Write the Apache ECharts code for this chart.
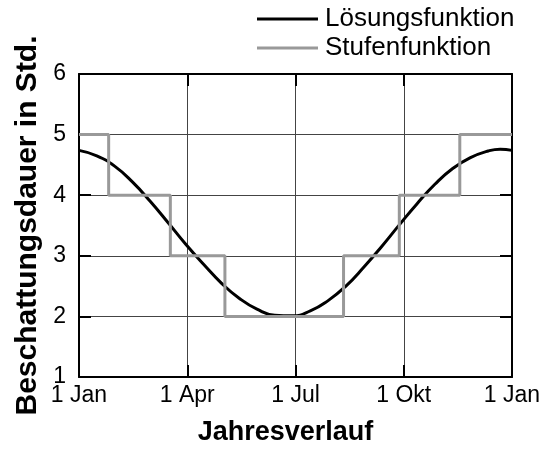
<!DOCTYPE html>
<html>
<head>
<meta charset="utf-8">
<script src="https://cdn.jsdelivr.net/npm/echarts@6/dist/echarts.min.js"></script>
<style>
  html, body { margin: 0; padding: 0; background: #fff; }
  #chart { width: 547px; height: 461px; }
</style>
</head>
<body>
<div id="chart"></div>
<script>
// Tage im Jahr, Beschriftung der x-Achse
const tickLabels = ['1 Jan', '1 Apr', '1 Jul', '1 Okt', '1 Jan']
// Lösungsfunktion
const curveDays = [0, 15, 30, 45, 60, 75, 90, 105, 120, 135, 150, 165, 180, 195, 210, 225, 240, 255, 270, 285, 300, 315, 330, 345, 355, 365]
const curveValues = [4.74, 4.65, 4.48, 4.22, 3.9, 3.55, 3.19, 2.86, 2.55, 2.3, 2.12, 2.02, 2.01, 2.09, 2.26, 2.5, 2.81, 3.15, 3.51, 3.86, 4.18, 4.44, 4.62, 4.73, 4.76, 4.74]
// Stufenfunktion
const stepDays = [0, 25, 77, 123, 223, 270, 321, 365]
const stepValues = [5, 4, 3, 2, 3, 4, 5, 5]

const font = 'Liberation Sans, Arial, sans-serif'
const chart = echarts.init(document.getElementById('chart'))

const frameAxis = {
  min: 0,
  axisLine: { show: true, onZero: false, lineStyle: { color: '#000', width: 2 } },
  axisTick: { show: true, inside: true, length: 12, lineStyle: { color: '#000', width: 2 } }
}

chart.setOption({
  animation: false,
  grid: { left: 79, right: 35, top: 74, bottom: 84, containLabel: false },
  legend: {
    orient: 'vertical',
    left: 257,
    top: 6,
    padding: 0,
    icon: 'rect',
    itemWidth: 61,
    itemHeight: 3,
    itemGap: 3,
    textStyle: { fontFamily: font, fontSize: 26, color: '#000', lineHeight: 26, padding: [0, 0, 0, 2] },
    data: ['Lösungsfunktion', 'Stufenfunktion']
  },
  xAxis: [
    {
      ...frameAxis,
      type: 'value',
      max: 365,
      interval: 91.25,
      position: 'bottom',
      name: 'Jahresverlauf',
      nameLocation: 'middle',
      nameGap: 42,
      nameTextStyle: { fontFamily: font, fontSize: 27, fontWeight: 'bold', color: '#000', padding: [0, 20, 0, 0] },
      axisLabel: {
        fontFamily: font, fontSize: 23, color: '#000', margin: 7,
        formatter: v => tickLabels[Math.round(v / 91.25)]
      },
      splitLine: { show: true, lineStyle: { color: '#444', width: 1 } }
    },
    {
      ...frameAxis,
      type: 'value',
      max: 365,
      interval: 91.25,
      position: 'top',
      axisLabel: { show: false },
      splitLine: { show: false }
    }
  ],
  yAxis: [
    {
      ...frameAxis,
      type: 'value',
      min: 1,
      max: 6,
      interval: 1,
      position: 'left',
      name: 'Beschattungsdauer in Std.',
      nameLocation: 'middle',
      nameGap: 35,
      nameTextStyle: { fontFamily: font, fontSize: 30, fontWeight: 'bold', color: '#000' },
      axisLabel: { fontFamily: font, fontSize: 23, color: '#000', margin: 13 },
      splitLine: { show: true, lineStyle: { color: '#444', width: 1 } }
    },
    {
      ...frameAxis,
      type: 'value',
      min: 1,
      max: 6,
      interval: 1,
      position: 'right',
      axisLabel: { show: false },
      splitLine: { show: false }
    }
  ],
  series: [
    {
      name: 'Lösungsfunktion',
      type: 'line',
      smooth: true,
      symbol: 'none',
      color: '#000',
      lineStyle: { color: '#000', width: 3 },
      data: curveDays.map((d, i) => [d, curveValues[i]])
    },
    {
      name: 'Stufenfunktion',
      type: 'line',
      step: 'end',
      symbol: 'none',
      color: '#999',
      lineStyle: { color: '#999', width: 3 },
      data: stepDays.map((d, i) => [d, stepValues[i]])
    }
  ]
})
</script>
</body>
</html>
